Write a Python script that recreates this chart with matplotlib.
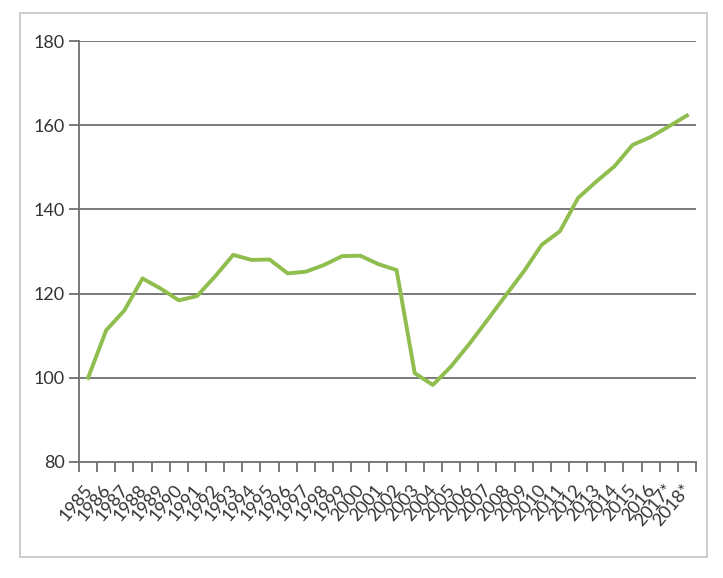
import matplotlib
matplotlib.use("Agg")
import matplotlib.pyplot as plt
import matplotlib.transforms as mtransforms
from matplotlib.patches import Rectangle
from matplotlib.ticker import FixedLocator

years = [str(y) for y in range(1985, 2017)] + ["2017*", "2018*"]
index_values = [100.0, 111.3, 116.0, 123.6, 121.2, 118.4, 119.4, 124.1, 129.2,
                128.0, 128.1, 124.8, 125.2, 126.8, 128.9, 129.0, 127.0, 125.6,
                101.1, 98.3, 102.7, 108.0, 113.7, 119.5, 125.2, 131.6, 134.8,
                142.7, 146.6, 150.2, 155.3, 157.2, 159.7, 162.3]

y_ticks = [80, 100, 120, 140, 160, 180]

plt.rcParams['font.family'] = ['Lato', 'DejaVu Sans']
text_col = '#333333'
grid_col = '#707070'

fig = plt.figure(figsize=(7.23, 5.78), dpi=100)
# outer chart frame
fig.patches.append(Rectangle((20 / 723, 1 - 557 / 578), 687 / 723, 544 / 578,
                             transform=fig.transFigure, fill=False,
                             edgecolor='#c8c8c8', linewidth=1.3))

ax = fig.add_axes([79 / 723, 116 / 578, 617 / 723, 421 / 578])

x = list(range(len(years)))
ax.plot(x, index_values, color='#8fbd4e', linewidth=2.8, solid_joinstyle='round',
        zorder=3)

ax.set_xlim(-0.5, len(years) - 0.5)
ax.set_ylim(80, 180)
ax.set_yticks(y_ticks)
ax.set_yticklabels([str(v) for v in y_ticks], fontsize=13, color=text_col)

for v in y_ticks[1:]:
    ax.axhline(v, color=grid_col, linewidth=1.3, zorder=1)

ax.set_xticks(x)
ax.set_xticklabels(years, fontsize=13, color=text_col, rotation=50,
                   ha='right', va='top', rotation_mode='anchor')
ax.xaxis.set_minor_locator(FixedLocator([i - 0.5 for i in range(len(years) + 1)]))
ax.tick_params(axis='x', which='major', length=0, pad=14)
ax.tick_params(axis='x', which='minor', length=7, width=1.3, color=grid_col)
ax.tick_params(axis='y', length=7, width=1.3, color=grid_col, pad=3)

offset = mtransforms.ScaledTranslation(-5 / 100, 0, fig.dpi_scale_trans)
for lbl in ax.get_xticklabels():
    lbl.set_transform(lbl.get_transform() + offset)

for side in ['top', 'right']:
    ax.spines[side].set_visible(False)
for side in ['left', 'bottom']:
    ax.spines[side].set_color(grid_col)
    ax.spines[side].set_linewidth(1.3)

fig.savefig("out.png", dpi=100)
